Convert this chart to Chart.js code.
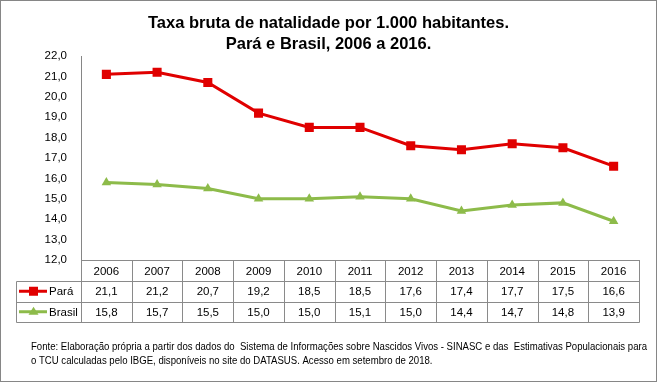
<!DOCTYPE html>
<html><head><meta charset="utf-8">
<script src="https://cdn.jsdelivr.net/npm/chart.js@4/dist/chart.umd.min.js"></script>
<style>html,body{margin:0;padding:0;background:#fff}#wrap{width:657px;height:384px;position:relative}</style>
</head><body><div id="wrap"><canvas id="c" width="657" height="384"></canvas></div>
<script>
const years = ['2006','2007','2008','2009','2010','2011','2012','2013','2014','2015','2016'];
const para = [21.1,21.2,20.7,19.2,18.5,18.5,17.6,17.4,17.7,17.5,16.6];
const brasil = [15.8,15.7,15.5,15.0,15.0,15.1,15.0,14.4,14.7,14.8,13.9];
const titleLines = ['Taxa bruta de natalidade por 1.000 habitantes.','Pará e Brasil, 2006 a 2016.'];
const footerLines = ['Fonte: Elaboração própria a partir dos dados do  Sistema de Informações sobre Nascidos Vivos - SINASC e das  Estimativas Populacionais para','o TCU calculadas pelo IBGE, disponíveis no site do DATASUS. Acesso em setembro de 2018.'];
const seriesNames = ['Pará','Brasil'];
const RED = '#E00000', GREEN = '#8DBB4A', GRID = '#8a8a8a';
const fmt = v => v.toFixed(1).replace('.', ',');

const tablePlugin = {
  id: 'tablePlugin',
  afterDraw(chart) {
    const ctx = chart.ctx, ca = chart.chartArea, xs = chart.scales.x;
    const n = years.length, colW = (ca.right - ca.left) / n;
    const rows = [ca.bottom, ca.bottom + 21, ca.bottom + 41.5, ca.bottom + 62];
    const legL = 16;
    ctx.save();
    // outer border
    ctx.strokeStyle = '#868686'; ctx.lineWidth = 1;
    ctx.strokeRect(0.5, 0.5, 656, 381);
    // title
    ctx.fillStyle = '#000'; ctx.textAlign = 'center'; ctx.textBaseline = 'middle';
    ctx.font = 'bold 16.5px "Liberation Sans", Arial, sans-serif';
    ctx.fillText(titleLines[0], 328.5, 23);
    ctx.fillText(titleLines[1], 328.5, 44.5);
    // table grid
    ctx.strokeStyle = GRID; ctx.lineWidth = 1;
    const L = Math.round(ca.left) + 0.5, R = Math.round(ca.right) + 0.5;
    ctx.beginPath();
    ctx.moveTo(L, Math.round(rows[0]) + 0.5); ctx.lineTo(R, Math.round(rows[0]) + 0.5);
    for (let r = 1; r < 4; r++) { const y = Math.round(rows[r]) + 0.5; ctx.moveTo(legL + 0.5, y); ctx.lineTo(R, y); }
    ctx.moveTo(legL + 0.5, Math.round(rows[1]) + 0.5); ctx.lineTo(legL + 0.5, Math.round(rows[3]) + 0.5);
    for (let i = 0; i < n; i++) {
      const xb = Math.round(xs.getPixelForValue(i) - colW / 2) + 0.5;
      ctx.moveTo(xb, rows[0]); ctx.lineTo(xb, Math.round(rows[3]) + 0.5);
    }
    ctx.moveTo(R, rows[0]); ctx.lineTo(R, Math.round(rows[3]) + 0.5);
    ctx.stroke();
    // cell text
    ctx.font = '11.5px "Liberation Sans", Arial, sans-serif';
    ctx.fillStyle = '#000'; ctx.textAlign = 'center';
    const data = [para, brasil];
    for (let i = 0; i < n; i++) {
      const cx = xs.getPixelForValue(i);
      ctx.fillText(years[i], cx, (rows[0] + rows[1]) / 2 + 1);
      ctx.fillText(fmt(data[0][i]), cx, (rows[1] + rows[2]) / 2 + 1);
      ctx.fillText(fmt(data[1][i]), cx, (rows[2] + rows[3]) / 2 + 1);
    }
    // legend cells
    const cols = [RED, GREEN];
    for (let s = 0; s < 2; s++) {
      const cy = (rows[s + 1] + rows[s + 2]) / 2;
      ctx.strokeStyle = cols[s]; ctx.lineWidth = 3;
      ctx.beginPath(); ctx.moveTo(19, cy); ctx.lineTo(47, cy); ctx.stroke();
      ctx.fillStyle = cols[s];
      if (s === 0) { ctx.fillRect(29, cy - 4.5, 9, 9); }
      else { ctx.beginPath(); ctx.moveTo(33.5, cy - 5); ctx.lineTo(38.5, cy + 3); ctx.lineTo(28.5, cy + 3); ctx.closePath(); ctx.fill(); }
      ctx.fillStyle = '#000'; ctx.textAlign = 'left';
      ctx.fillText(seriesNames[s], 49, cy + 1);
    }
    // footer
    ctx.font = '10px "Liberation Sans", Arial, sans-serif';
    ctx.textAlign = 'left'; ctx.fillStyle = '#000';
    const w0 = ctx.measureText(footerLines[0]).width;
    const sx = 616 / w0;
    ctx.save(); ctx.translate(31, 0); ctx.scale(sx, 1);
    ctx.fillText(footerLines[0], 0, 347);
    ctx.fillText(footerLines[1], 0, 361);
    ctx.restore();
    ctx.restore();
  }
};

new Chart(document.getElementById('c'), {
  type: 'line',
  data: {
    labels: years,
    datasets: [
      { label: seriesNames[0], data: para, borderColor: RED, backgroundColor: RED, borderWidth: 3,
        pointStyle: 'rect', pointRadius: 6.4, pointBorderWidth: 0, tension: 0 },
      { label: seriesNames[1], data: brasil, borderColor: GREEN, backgroundColor: GREEN, borderWidth: 3,
        pointStyle: 'triangle', pointRadius: 5.5, pointBorderWidth: 0, tension: 0 }
    ]
  },
  options: {
    responsive: false, animation: false, devicePixelRatio: 1,
    layout: { padding: { left: 0, right: 18, top: 56, bottom: 124 } },
    plugins: { legend: { display: false }, title: { display: false }, tooltip: { enabled: false } },
    scales: {
      x: { display: false, offset: true },
      y: {
        min: 12, max: 22,
        ticks: { stepSize: 1, padding: 14, color: '#000', font: { family: '"Liberation Sans", Arial, sans-serif', size: 11.5 },
          callback: v => fmt(v) },
        grid: { display: false, drawTicks: false },
        border: { display: true, color: '#868686', width: 1 },
        afterFit(s) { s.width = 81; }
      }
    }
  },
  plugins: [tablePlugin]
});
</script></body></html>
